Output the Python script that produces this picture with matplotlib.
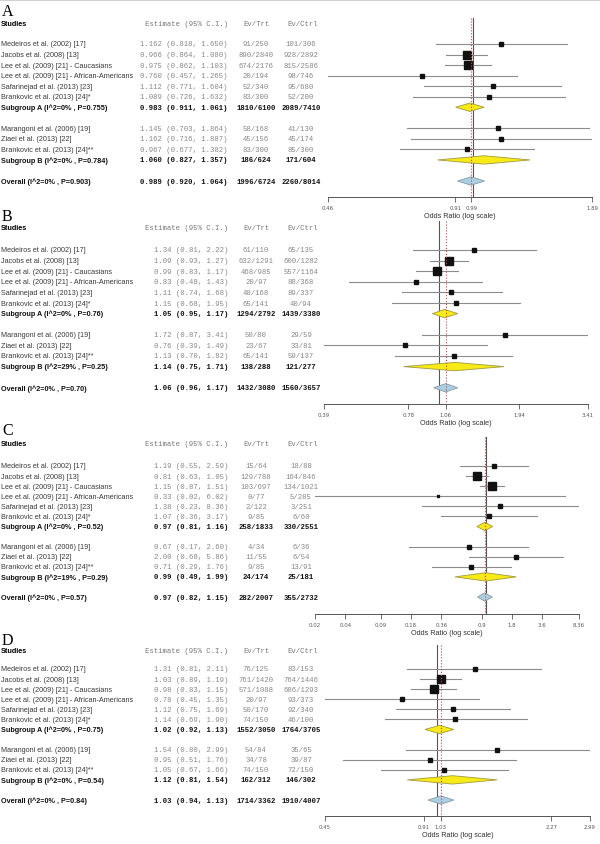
import matplotlib.pyplot as plt
import numpy as np
from matplotlib.lines import Line2D
from matplotlib.patches import Polygon
from matplotlib.ticker import NullLocator
from matplotlib.transforms import blended_transform_factory

# rows: 6 studies, subgroup A, 3 studies, subgroup B, overall
row_names = ["Medeiros et al. (2002) [17]",
             "Jacobs et al. (2008) [13]",
             "Lee et al. (2009) [21] - Caucasians",
             "Lee et al. (2009) [21] - African-Americans",
             "Safarinejad et al. (2013) [23]",
             "Brankovic et al. (2013) [24]*",
             "Subgroup A",
             "Marangoni et al. (2006) [19]",
             "Ziaei et al. (2013) [22]",
             "Brankovic et al. (2013) [24]**",
             "Subgroup B",
             "Overall"]
summary_rows = [6, 10, 11]

# panel A
est_a = [1.162, 0.966, 0.975, 0.760, 1.112, 1.089, 0.983, 1.145, 1.162, 0.967, 1.060, 0.989]
lo_a = [0.818, 0.864, 0.862, 0.457, 0.771, 0.726, 0.911, 0.703, 0.716, 0.677, 0.827, 0.920]
hi_a = [1.650, 1.080, 1.103, 1.265, 1.604, 1.632, 1.061, 1.864, 1.887, 1.382, 1.357, 1.064]
trt_a = ["91/250", "890/2840", "674/2176", "20/194", "52/340", "83/300", "1810/6100",
         "58/168", "45/156", "83/300", "186/624", "1996/6724"]
ctrl_a = ["101/306", "928/2892", "815/2586", "98/746", "95/680", "52/200", "2089/7410",
          "41/130", "45/174", "85/300", "171/604", "2260/8014"]
het_a = ["(I^2=0% , P=0.755)", "(I^2=0% , P=0.784)", "(I^2=0% , P=0.903)"]
ticks_a = [0.46, 0.91, 0.99, 1.89]

# panel B
est_b = [1.34, 1.09, 0.99, 0.83, 1.11, 1.15, 1.05, 1.72, 0.76, 1.13, 1.14, 1.06]
lo_b = [0.81, 0.93, 0.83, 0.48, 0.74, 0.68, 0.95, 0.87, 0.39, 0.70, 0.75, 0.96]
hi_b = [2.22, 1.27, 1.17, 1.43, 1.68, 1.95, 1.17, 3.41, 1.49, 1.82, 1.71, 1.17]
trt_b = ["61/110", "632/1291", "468/985", "20/97", "48/168", "65/141", "1294/2792",
         "50/80", "23/67", "65/141", "138/288", "1432/3080"]
ctrl_b = ["65/135", "600/1282", "557/1164", "88/368", "89/337", "40/94", "1439/3380",
          "29/59", "33/81", "59/137", "121/277", "1560/3657"]
het_b = ["(I^2=0% , P=0.76)", "(I^2=29% , P=0.25)", "(I^2=0% , P=0.70)"]
ticks_b = [0.39, 0.78, 1.06, 1.94, 3.41]

# panel C
est_c = [1.19, 0.81, 1.15, 0.33, 1.38, 1.07, 0.97, 0.67, 2.00, 0.71, 0.99, 0.97]
lo_c = [0.55, 0.63, 0.87, 0.02, 0.23, 0.36, 0.81, 0.17, 0.68, 0.29, 0.49, 0.82]
hi_c = [2.59, 1.05, 1.51, 6.02, 8.36, 3.17, 1.16, 2.60, 5.86, 1.76, 1.99, 1.15]
trt_c = ["15/64", "129/788", "103/697", "0/77", "2/122", "9/85", "258/1833",
         "4/34", "11/55", "9/85", "24/174", "282/2007"]
ctrl_c = ["18/88", "164/846", "134/1021", "5/285", "3/251", "6/60", "330/2551",
          "6/36", "6/54", "13/91", "25/181", "355/2732"]
het_c = ["(I^2=0% , P=0.52)", "(I^2=19% , P=0.29)", "(I^2=0% , P=0.57)"]
ticks_c = [0.02, 0.04, 0.09, 0.18, 0.36, 0.9, 1.8, 3.6, 8.36]

# panel D
est_d = [1.31, 1.03, 0.98, 0.78, 1.12, 1.14, 1.02, 1.54, 0.95, 1.05, 1.12, 1.03]
lo_d = [0.81, 0.89, 0.83, 0.45, 0.75, 0.69, 0.92, 0.80, 0.51, 0.67, 0.81, 0.94]
hi_d = [2.11, 1.19, 1.15, 1.35, 1.69, 1.90, 1.13, 2.99, 1.76, 1.66, 1.54, 1.13]
trt_d = ["76/125", "761/1420", "571/1088", "20/97", "50/170", "74/150", "1552/3050",
         "54/84", "34/78", "74/150", "162/312", "1714/3362"]
ctrl_d = ["83/153", "764/1446", "686/1293", "93/373", "92/340", "46/100", "1764/3705",
          "35/65", "39/87", "72/150", "146/302", "1910/4007"]
het_d = ["(I^2=0% , P=0.75)", "(I^2=0% , P=0.54)", "(I^2=0% , P=0.84)"]
ticks_d = [0.45, 0.91, 1.03, 2.27, 2.99]

# layout in pixels: letter, header, first row, row step, axis line, plot x range
panels = [
    dict(letter="A", est=est_a, lo=lo_a, hi=hi_a, trt=trt_a, ctrl=ctrl_a, het=het_a,
         ticks=ticks_a, dec=3, let_y=12, head=25, first=45, step=10.54, axis=198, x0=328, x1=592),
    dict(letter="B", est=est_b, lo=lo_b, hi=hi_b, trt=trt_b, ctrl=ctrl_b, het=het_b,
         ticks=ticks_b, dec=2, let_y=217, head=228, first=251, step=10.6, axis=405, x0=324, x1=588),
    dict(letter="C", est=est_c, lo=lo_c, hi=hi_c, trt=trt_c, ctrl=ctrl_c, het=het_c,
         ticks=ticks_c, dec=2, let_y=431, head=444, first=467, step=10.08, axis=615, x0=315, x1=579),
    dict(letter="D", est=est_d, lo=lo_d, hi=hi_d, trt=trt_d, ctrl=ctrl_d, het=het_d,
         ticks=ticks_d, dec=2, let_y=641, head=652, first=670, step=10.08, axis=817, x0=325, x1=590),
]

row_pos = [0, 1, 2, 3, 4, 5, 6, 8, 9, 10, 11, 13]
W, H = 600, 845
SANS = "Liberation Sans"
MONO = "Liberation Mono"
FS = 5.25

fig = plt.figure(figsize=(W / 100, H / 100), dpi=100)
fig.add_artist(Line2D([0, 1], [0.999, 0.999], color="#c8c8c8", lw=1.2))

for p in panels:
    y_top = p["let_y"] - 8
    y_bot = p["axis"]
    ax = fig.add_axes([p["x0"] / W, 1 - y_bot / H, (p["x1"] - p["x0"]) / W, (y_bot - y_top) / H])
    ax.patch.set_alpha(0)
    ax.set_xscale("log")
    ax.set_xlim(p["ticks"][0], p["ticks"][-1])
    ax.set_ylim(y_bot, y_top)
    ax.set_xticks(p["ticks"])
    ax.set_xticklabels([str(t) for t in p["ticks"]])
    ax.xaxis.set_minor_locator(NullLocator())
    ax.set_yticks([])
    for s in ["top", "left", "right"]:
        ax.spines[s].set_visible(False)
    ax.spines["bottom"].set_color("#555555")
    ax.spines["bottom"].set_linewidth(0.7)
    ax.tick_params(axis="x", length=3.5, width=0.6, color="#555555", labelsize=3.9,
                   labelcolor="#555555", pad=2.5)
    ax.set_xlabel("Odds Ratio (log scale)", fontsize=5.2, family=SANS, color="#333333", labelpad=1.5)

    est = np.array(p["est"])
    lo = np.array(p["lo"])
    hi = np.array(p["hi"])
    ys = [p["first"] + r * p["step"] for r in row_pos]

    ax.plot([1, 1], [p["head"] - 6, y_bot], color="#555555", lw=0.8, zorder=1)
    ax.plot([est[-1], est[-1]], [p["head"] - 6, y_bot], color="#d04545", lw=0.8, ls=":", zorder=4)

    study_idx = [i for i in range(len(est)) if i not in summary_rows]
    se = (np.log(hi[study_idx]) - np.log(lo[study_idx])) / 3.92
    w = 1 / se ** 2
    side_px = 2.5 + 5.5 * (w / w.max()) ** 0.6
    for i, side in zip(study_idx, side_px):
        ax.plot([lo[i], hi[i]], [ys[i], ys[i]], color="#8c8c8c", lw=0.8, zorder=2)
        ax.plot(est[i], ys[i], "s", ms=side * 0.72, color="#111111", zorder=3)

    for i in summary_rows:
        y = ys[i]
        overall = i == summary_rows[-1]
        face = "#a9d0e2" if overall else "#f7ea16"
        edge = "#8a9aa5" if overall else "#a09a40"
        h = 4.2
        diamond = Polygon([(lo[i], y), (est[i], y - h), (hi[i], y), (est[i], y + h)],
                          closed=True, facecolor=face, edgecolor=edge, lw=0.6, zorder=3)
        ax.add_patch(diamond)

    tr = blended_transform_factory(fig.transFigure, ax.transData)
    ax.text(2 / W, p["let_y"], p["letter"], transform=tr, family="Liberation Serif", fontsize=11.5,
            va="center", ha="left", clip_on=False)
    ax.text(1 / W, p["head"], "Studies", transform=tr, family=SANS, fontsize=FS, weight="bold",
            va="center", ha="left", clip_on=False)
    ax.text(228 / W, p["head"], "Estimate (95% C.I.)", transform=tr, family=MONO, fontsize=FS,
            color="#777777", va="center", ha="right", clip_on=False)
    ax.text(256 / W, p["head"], "Ev/Trt", transform=tr, family=MONO, fontsize=FS,
            color="#777777", va="center", ha="center", clip_on=False)
    ax.text(303 / W, p["head"], "Ev/Ctrl", transform=tr, family=MONO, fontsize=FS,
            color="#777777", va="center", ha="center", clip_on=False)

    fmt = "{:.%df}" % p["dec"]
    for i, name in enumerate(row_names):
        y = ys[i]
        summ = i in summary_rows
        if summ:
            name = name + " " + p["het"][summary_rows.index(i)]
        ci = f"{fmt.format(est[i])} ({fmt.format(lo[i])}, {fmt.format(hi[i])})"
        wt = "bold" if summ else "normal"
        ncol = "#111111" if summ else "#3a3a3a"
        mcol = "#111111" if summ else "#888888"
        ax.text(1 / W, y, name, transform=tr, family=SANS, fontsize=FS, weight=wt,
                color=ncol, va="center", ha="left", clip_on=False)
        ax.text(228 / W, y, ci, transform=tr, family=MONO, fontsize=FS, weight=wt,
                color=mcol, va="center", ha="right", clip_on=False)
        ax.text(256 / W, y, p["trt"][i], transform=tr, family=MONO, fontsize=FS, weight=wt,
                color=mcol, va="center", ha="center", clip_on=False)
        ax.text(301 / W, y, p["ctrl"][i], transform=tr, family=MONO, fontsize=FS, weight=wt,
                color=mcol, va="center", ha="center", clip_on=False)

fig.savefig("out.png", dpi=100, facecolor="white")
